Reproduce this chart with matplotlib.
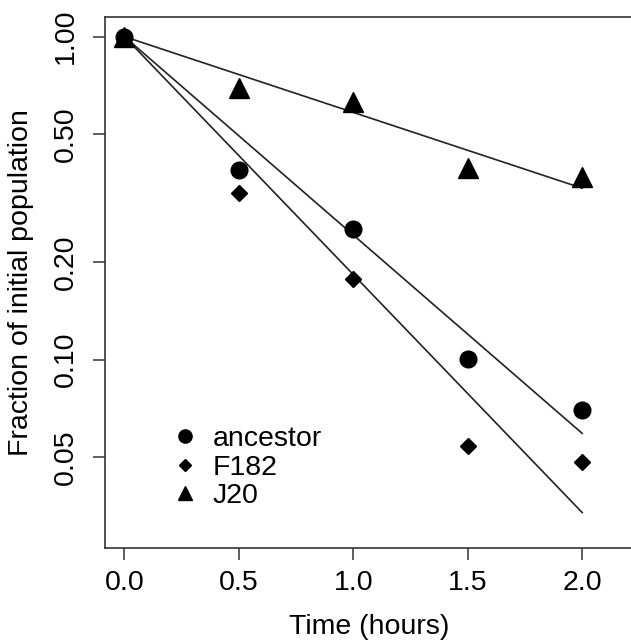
import numpy as np
import matplotlib
matplotlib.use("Agg")
import matplotlib.pyplot as plt
from matplotlib.lines import Line2D

plt.rcParams['font.family'] = ['Liberation Sans', 'DejaVu Sans']

time_hours = [0.0, 0.5, 1.0, 1.5, 2.0]
ancestor = [1.0, 0.387, 0.2545, 0.1004, 0.070]
f182 = [1.0, 0.328, 0.178, 0.0541, 0.0481]
j20 = [1.0, 0.695, 0.627, 0.392, 0.368]
series_names = ["ancestor", "F182", "J20"]
y_ticks = [0.05, 0.10, 0.20, 0.50, 1.00]
y_tick_labels = ["0.05", "0.10", "0.20", "0.50", "1.00"]
x_ticks = [0.0, 0.5, 1.0, 1.5, 2.0]
x_tick_labels = ["0.0", "0.5", "1.0", "1.5", "2.0"]

W, H = 631, 642
fig = plt.figure(figsize=(W / 100, H / 100), dpi=100)
left_px, right_px, top_px, bot_px = 105, 633, 17, 548
ax = fig.add_axes([left_px / W, 1 - bot_px / H, (right_px - left_px) / W, (bot_px - top_px) / H])

fs = 20.5
markers = {"ancestor": ("o", 12), "F182": ("D", 8.6), "J20": ("^", 14)}
data = {"ancestor": ancestor, "F182": f182, "J20": j20}
x = np.array(time_hours)

for name in series_names:
    y = np.array(data[name])
    m, ms = markers[name]
    ax.plot(x, y, linestyle='none', marker=m, markersize=ms, color='black', zorder=3)
    ly = np.log10(y)
    slope = np.sum(x * ly) / np.sum(x * x)
    xl = np.array([0.0, 2.0])
    ax.plot(xl, 10 ** (slope * xl), color='#222222', linewidth=1.2, zorder=2)

ax.set_yscale('log')
ax.set_xlim(-0.085, 2.0 + (right_px - 582.2) / 228.75)
lo, hi = np.log10(0.03), 0.0
r = hi - lo
ax.set_ylim(10 ** (lo - 0.04 * r), 10 ** (hi + 0.04 * r))

ax.yaxis.set_minor_locator(matplotlib.ticker.NullLocator())
ax.set_yticks(y_ticks)
ax.set_yticklabels(y_tick_labels, rotation=90, va='center', fontsize=fs)
ax.set_xticks(x_ticks)
ax.set_xticklabels(x_tick_labels, fontsize=fs)
ax.tick_params(axis='both', direction='out', length=8.6, width=1.1, color='#333333', pad=7)
ax.tick_params(axis='y', pad=10)

for s in ax.spines.values():
    s.set_color('#333333')
    s.set_linewidth(1.2)

ax.set_xlabel("Time (hours)", fontsize=fs, labelpad=13)
ax.set_ylabel("Fraction of initial population", fontsize=fs, labelpad=14)

handles = [
    Line2D([], [], linestyle='none', marker='o', markersize=9.5, color='black'),
    Line2D([], [], linestyle='none', marker='D', markersize=6.5, color='black'),
    Line2D([], [], linestyle='none', marker='^', markersize=10.5, color='black'),
]
ax.legend(handles, series_names, loc='upper left', frameon=False, fontsize=fs,
          bbox_to_anchor=(0.093, 0.256), handletextpad=0.35, labelspacing=0.09,
          handlelength=1.2, borderpad=0)

fig.savefig("out.png", dpi=100)
